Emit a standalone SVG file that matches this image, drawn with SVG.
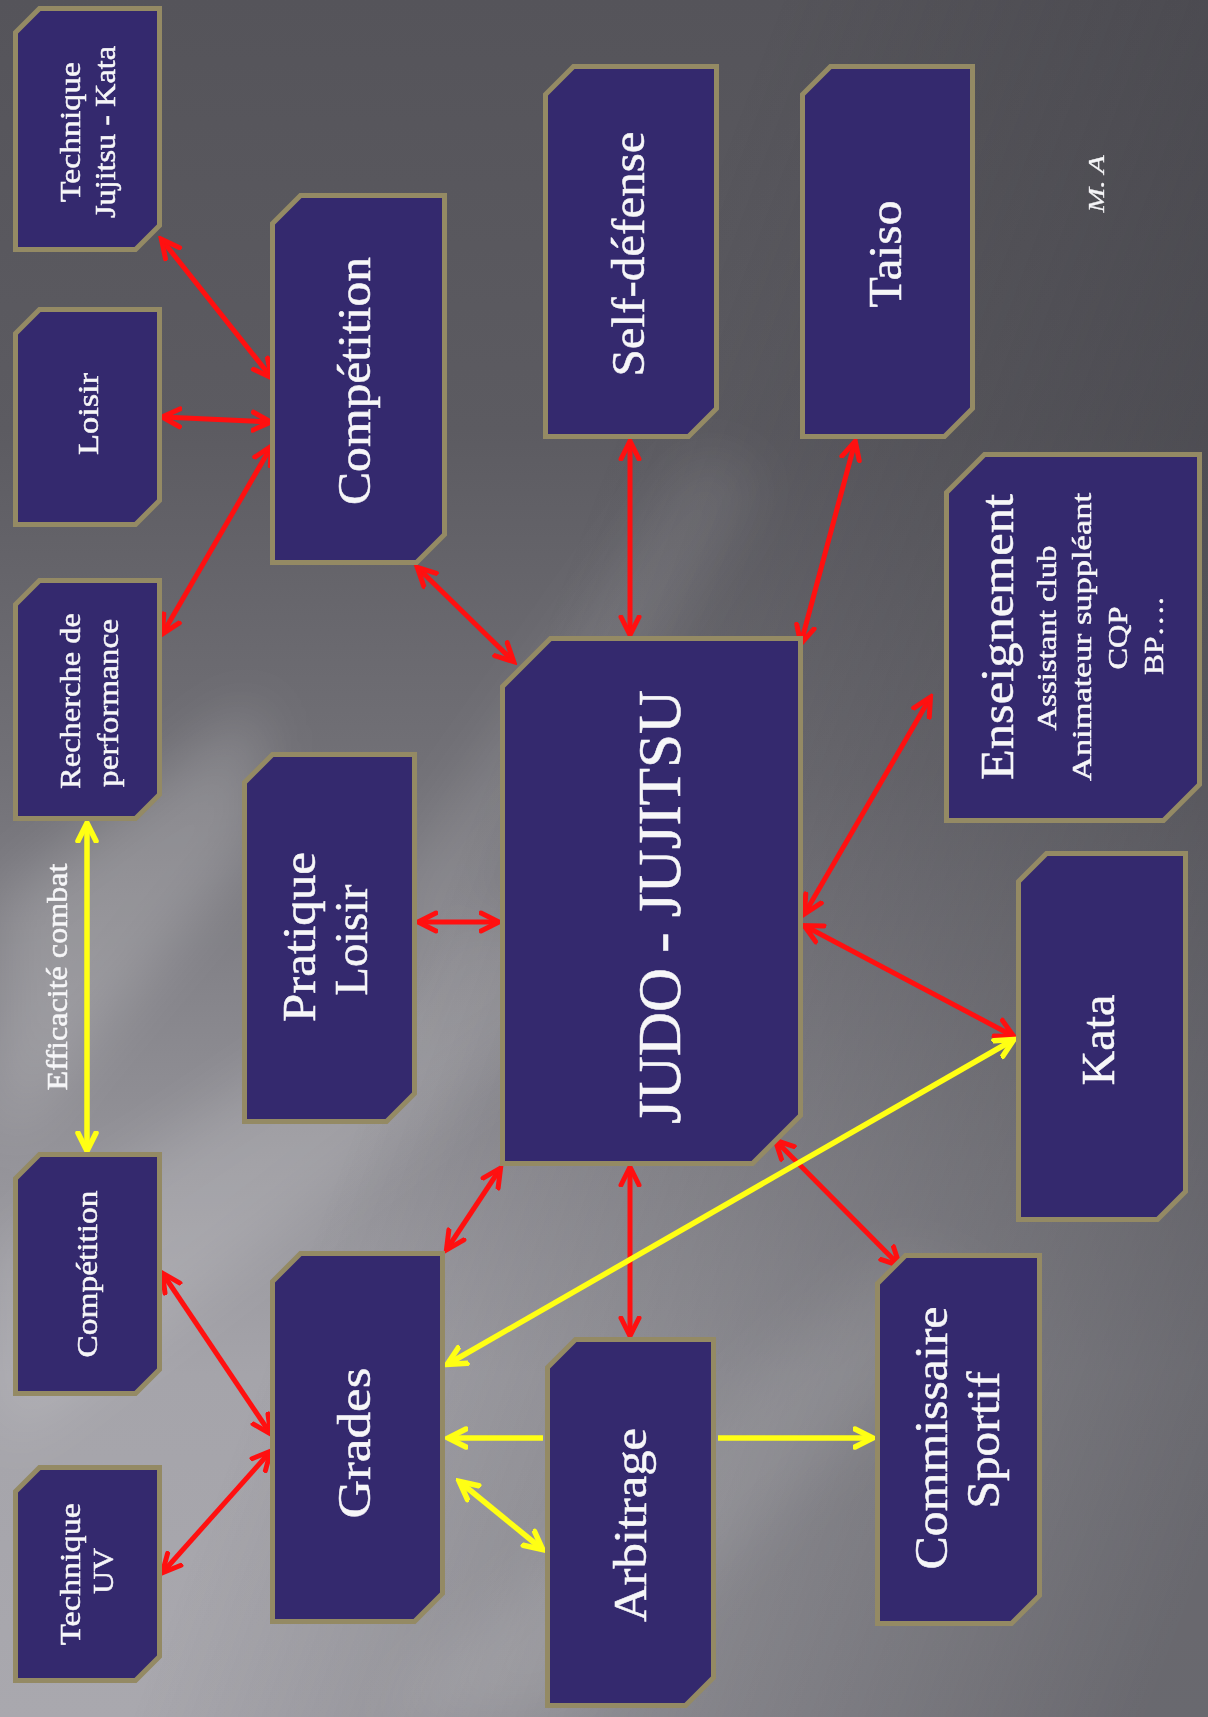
<svg xmlns="http://www.w3.org/2000/svg" width="1208" height="1717" viewBox="0 0 1208 1717">
<style>
.box{fill:#34296e;stroke:#948a64;stroke-width:5}
.t{font-family:"Liberation Serif","DejaVu Serif",serif;fill:#f6f6f8;stroke:#f6f6f8;stroke-width:0.5;text-anchor:middle}
.s30{font-size:30px}
.s28{font-size:28px}
.s46{font-size:46px}
.s62{font-size:62px}
.red{stroke:#ff1010;stroke-width:5;fill:none}
.yel{stroke:#ffff14;stroke-width:5.5;fill:none}
.r2{marker-start:url(#ar);marker-end:url(#ar)}
.y2{marker-start:url(#ay);marker-end:url(#ay)}
.y1{marker-end:url(#ay)}
</style>
<defs>
<linearGradient id="bg" x1="0" y1="0" x2="0" y2="1">
<stop offset="0" stop-color="#55545a"/>
<stop offset="0.25" stop-color="#5c5b61"/>
<stop offset="0.45" stop-color="#727177"/>
<stop offset="0.62" stop-color="#8c8b91"/>
<stop offset="0.8" stop-color="#a5a4aa"/>
<stop offset="1" stop-color="#a9a8ae"/>
</linearGradient>
<linearGradient id="dark" x1="0.35" y1="0.55" x2="1" y2="0.9">
<stop offset="0" stop-color="#2a2a30" stop-opacity="0"/>
<stop offset="1" stop-color="#2a2a30" stop-opacity="0.5"/>
</linearGradient>
<filter id="blur" x="-20%" y="-20%" width="140%" height="140%"><feGaussianBlur stdDeviation="30"/></filter>
<marker id="ar" viewBox="0 0 24 24" refX="19" refY="12" markerWidth="24" markerHeight="24" markerUnits="userSpaceOnUse" orient="auto-start-reverse">
<path d="M2,3 L20,12 L2,21" fill="none" stroke="#ff1010" stroke-width="5" stroke-linecap="round"/>
</marker>
<marker id="ay" viewBox="0 0 24 24" refX="19" refY="12" markerWidth="24" markerHeight="24" markerUnits="userSpaceOnUse" orient="auto-start-reverse">
<path d="M2,3 L20,12 L2,21" fill="none" stroke="#ffff14" stroke-width="5.5" stroke-linecap="round"/>
</marker>
</defs>
<g id="background">
<rect width="1208" height="1717" fill="url(#bg)"/>
<g filter="url(#blur)" fill="#ffffff">
<polygon points="0,900 260,700 260,840 0,1150" opacity="0.18"/>
<polygon points="0,1250 520,900 640,960 0,1450" opacity="0.14"/>
<polygon points="380,1717 900,1250 1000,1300 560,1717" opacity="0.16"/>
<polygon points="380,900 700,450 760,480 440,980" opacity="0.1"/>
</g>
<rect width="1208" height="1717" fill="url(#dark)"/>
</g>
<g id="connectors">
<line class="red r2" x1="162" y1="240" x2="271" y2="377"/>
<line class="red r2" x1="163" y1="417" x2="270" y2="422"/>
<line class="red r2" x1="271" y1="447" x2="163" y2="633"/>
<line class="red r2" x1="418" y1="568" x2="513" y2="661"/>
<line class="red r2" x1="630" y1="442" x2="630" y2="634"/>
<line class="red r2" x1="855" y1="442" x2="801" y2="643"/>
<line class="red r2" x1="419" y1="922" x2="498" y2="922"/>
<line class="red r2" x1="930" y1="698" x2="805" y2="913"/>
<line class="red r2" x1="805" y1="926" x2="1013" y2="1036"/>
<line class="red r2" x1="500" y1="1169" x2="447" y2="1249"/>
<line class="red r2" x1="630" y1="1168" x2="630" y2="1335"/>
<line class="red r2" x1="776" y1="1141" x2="899" y2="1265"/>
<line class="red r2" x1="163" y1="1274" x2="270" y2="1433"/>
<line class="red r2" x1="163" y1="1572" x2="270" y2="1452"/>
<line class="yel y2" x1="87" y1="824" x2="87" y2="1150"/>
<line class="yel y2" x1="448" y1="1364" x2="1013" y2="1040"/>
<line class="yel y1" x1="543" y1="1438" x2="449" y2="1438"/>
<line class="yel y1" x1="718" y1="1438" x2="872" y2="1438"/>
<line class="yel y2" x1="460" y1="1482" x2="542" y2="1549"/>
<text class="t s30" transform="translate(67,977) rotate(-90)" textLength="227" lengthAdjust="spacingAndGlyphs">Efficacité combat</text>
</g>
<g id="n-technique-kata">
<path class="box" d="M39.5,8.5 H159.5 V225.5 L135.5,249.5 H15.5 V32.5 Z"/>
<text class="t s30" transform="translate(80,132) rotate(-90)" textLength="140" lengthAdjust="spacingAndGlyphs">Technique</text>
<text class="t s30" transform="translate(115,132) rotate(-90)" textLength="172" lengthAdjust="spacingAndGlyphs">Jujitsu - Kata</text>
</g>
<g id="n-loisir">
<path class="box" d="M39.5,309.5 H159.5 V500.5 L135.5,524.5 H15.5 V333.5 Z"/>
<text class="t s30" transform="translate(98,414) rotate(-90)" textLength="82" lengthAdjust="spacingAndGlyphs">Loisir</text>
</g>
<g id="n-recherche">
<path class="box" d="M39.5,580.5 H159.5 V794.5 L135.5,818.5 H15.5 V604.5 Z"/>
<text class="t s30" transform="translate(80,701) rotate(-90)" textLength="176" lengthAdjust="spacingAndGlyphs">Recherche de</text>
<text class="t s30" transform="translate(118,703) rotate(-90)" textLength="168" lengthAdjust="spacingAndGlyphs">performance</text>
</g>
<g id="n-competition-b">
<path class="box" d="M39.5,1154.5 H159.5 V1369.5 L135.5,1393.5 H15.5 V1178.5 Z"/>
<text class="t s30" transform="translate(97,1274) rotate(-90)" textLength="167" lengthAdjust="spacingAndGlyphs">Compétition</text>
</g>
<g id="n-technique-uv">
<path class="box" d="M39.5,1467.5 H159.5 V1656.5 L135.5,1680.5 H15.5 V1491.5 Z"/>
<text class="t s30" transform="translate(80,1574) rotate(-90)" textLength="142" lengthAdjust="spacingAndGlyphs">Technique</text>
<text class="t s30" transform="translate(113,1571) rotate(-90)" textLength="46" lengthAdjust="spacingAndGlyphs">UV</text>
</g>
<g id="n-competition">
<path class="box" d="M300.5,195.5 H444.5 V534.5 L416.5,562.5 H272.5 V223.5 Z"/>
<text class="t s46" transform="translate(370,381) rotate(-90)" textLength="248" lengthAdjust="spacingAndGlyphs">Compétition</text>
</g>
<g id="n-pratique">
<path class="box" d="M272.5,754.5 H414.5 V1093.5 L386.5,1121.5 H244.5 V782.5 Z"/>
<text class="t s46" transform="translate(315,937) rotate(-90)" textLength="170" lengthAdjust="spacingAndGlyphs">Pratique</text>
<text class="t s46" transform="translate(367,940) rotate(-90)" textLength="111" lengthAdjust="spacingAndGlyphs">Loisir</text>
</g>
<g id="n-grades">
<path class="box" d="M300.5,1253.5 H442.5 V1593.5 L414.5,1621.5 H272.5 V1281.5 Z"/>
<text class="t s46" transform="translate(370,1443) rotate(-90)" textLength="151" lengthAdjust="spacingAndGlyphs">Grades</text>
</g>
<g id="n-self-defense">
<path class="box" d="M573.5,66.5 H716.5 V408.5 L688.5,436.5 H545.5 V94.5 Z"/>
<text class="t s46" transform="translate(644,254) rotate(-90)" textLength="245" lengthAdjust="spacingAndGlyphs">Self-défense</text>
</g>
<g id="n-taiso">
<path class="box" d="M830.5,66.5 H972.5 V408.5 L944.5,436.5 H802.5 V94.5 Z"/>
<text class="t s46" transform="translate(901,254) rotate(-90)" textLength="107" lengthAdjust="spacingAndGlyphs">Taiso</text>
</g>
<g id="n-judo-jujitsu">
<path class="box" d="M550.5,638.5 H800.5 V1115.5 L752.5,1163.5 H502.5 V686.5 Z"/>
<text class="t s62" transform="translate(680,907) rotate(-90)" textLength="434" lengthAdjust="spacingAndGlyphs">JUDO - JUJITSU</text>
</g>
<g id="n-enseignement">
<path class="box" d="M984.5,454.5 H1199.5 V784.5 L1163.5,820.5 H946.5 V492.5 Z"/>
<text class="t s46" transform="translate(1013,637) rotate(-90)" textLength="286" lengthAdjust="spacingAndGlyphs">Enseignement</text>
<text class="t s28" transform="translate(1056,638) rotate(-90)" textLength="185" lengthAdjust="spacingAndGlyphs">Assistant club</text>
<text class="t s28" transform="translate(1091,637) rotate(-90)" textLength="288" lengthAdjust="spacingAndGlyphs">Animateur suppléant</text>
<text class="t s28" transform="translate(1127,638) rotate(-90)" textLength="63" lengthAdjust="spacingAndGlyphs">CQP</text>
<text class="t s28" transform="translate(1163,636) rotate(-90)" textLength="78" lengthAdjust="spacingAndGlyphs">BP….</text>
</g>
<g id="n-kata">
<path class="box" d="M1046.5,853.5 H1185.5 V1191.5 L1157.5,1219.5 H1018.5 V881.5 Z"/>
<text class="t s46" transform="translate(1114,1040) rotate(-90)" textLength="91" lengthAdjust="spacingAndGlyphs">Kata</text>
</g>
<g id="n-arbitrage">
<path class="box" d="M575.5,1339.5 H713.5 V1677.5 L685.5,1705.5 H547.5 V1367.5 Z"/>
<text class="t s46" transform="translate(646,1525) rotate(-90)" textLength="194" lengthAdjust="spacingAndGlyphs">Arbitrage</text>
</g>
<g id="n-commissaire">
<path class="box" d="M905.5,1255.5 H1039.5 V1595.5 L1011.5,1623.5 H877.5 V1283.5 Z"/>
<text class="t s46" transform="translate(947,1438) rotate(-90)" textLength="263" lengthAdjust="spacingAndGlyphs">Commissaire</text>
<text class="t s46" transform="translate(999,1440) rotate(-90)" textLength="137" lengthAdjust="spacingAndGlyphs">Sportif</text>
</g>
<g id="signature">
<text class="t" style="font-size:24px;font-style:italic;stroke-width:0.3" transform="translate(1104,184) rotate(-90)" textLength="57" lengthAdjust="spacingAndGlyphs">M. A</text>
</g>
</svg>
